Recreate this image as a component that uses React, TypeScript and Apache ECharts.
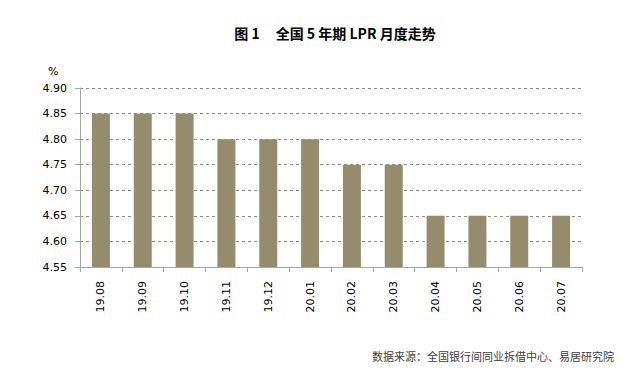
import React, { useEffect, useRef } from "react";
import * as echarts from "echarts";

const categories = ["19.08", "19.09", "19.10", "19.11", "19.12", "20.01", "20.02", "20.03", "20.04", "20.05", "20.06", "20.07"];
const values = [4.85, 4.85, 4.85, 4.8, 4.8, 4.8, 4.75, 4.75, 4.65, 4.65, 4.65, 4.65];
const titleText = "图 1     全国 5 年期 LPR 月度走势";
const sourceText = "数据来源：全国银行间同业拆借中心、易居研究院";

export default function App() {
  const ref = useRef<HTMLDivElement>(null);
  useEffect(() => {
    const chart = echarts.init(ref.current!, null, { renderer: "svg" });
    chart.setOption({
      animation: false,
      backgroundColor: "#ffffff",
      title: {
        text: titleText,
        left: 330,
        top: 21,
        textAlign: "center",
        textStyle: { fontFamily: "Noto Sans CJK SC", fontWeight: "bold", fontSize: 14, color: "#000" },
      },
      grid: { left: 80, right: 46, top: 88, bottom: 105 },
      xAxis: {
        type: "category",
        data: categories,
        boundaryGap: true,
        axisLine: { lineStyle: { color: "#a6a6a6" } },
        axisTick: { show: true, alignWithLabel: false, length: 5, lineStyle: { color: "#a6a6a6" } },
        axisLabel: { rotate: 90, margin: 14, fontFamily: "DejaVu Sans", fontSize: 11, color: "#000" },
      },
      yAxis: {
        type: "value",
        min: 4.55,
        max: 4.9,
        interval: 0.05,
        axisLine: { show: true, lineStyle: { color: "#a6a6a6" } },
        axisTick: { show: true, length: 5, lineStyle: { color: "#a6a6a6" } },
        axisLabel: {
          margin: 13,
          fontFamily: "DejaVu Sans",
          fontSize: 11,
          color: "#000",
          formatter: (v: number) => v.toFixed(2),
        },
        splitLine: { show: true, lineStyle: { color: "#8c8c8c", type: [3, 3], width: 1 } },
      },
      graphic: [
        {
          type: "text",
          left: 48,
          top: 66,
          style: { text: "%", fontFamily: "DejaVu Sans", fontSize: 11, fill: "#000" },
        },
        {
          type: "text",
          right: 14,
          top: 350,
          style: { text: sourceText, fontFamily: "Noto Sans CJK SC", fontSize: 11, fill: "#404040" },
        },
      ],
      series: [
        {
          type: "bar",
          data: values,
          barWidth: 18,
          itemStyle: { color: "#958c6e" },
        },
      ],
    });
    return () => chart.dispose();
  }, []);
  return <div ref={ref} style={{ width: 628, height: 372, position: "absolute", left: 0, top: 0 }} />;
}
